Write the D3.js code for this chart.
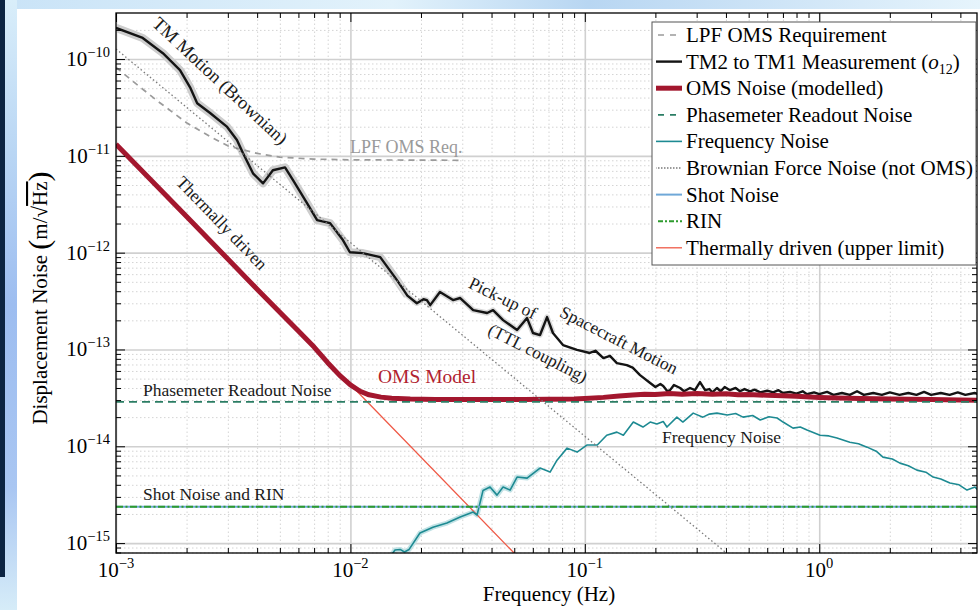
<!DOCTYPE html>
<html>
<head>
<meta charset="utf-8">
<script src="https://cdn.jsdelivr.net/npm/d3@7/dist/d3.min.js"></script>
<style>
  body { margin: 0; background: #ffffff; }
  svg { display: block; font-family: "Liberation Serif", "Times New Roman", serif; }
</style>
</head>
<body>
<div id="graph"></div>
<script>
// tick values and labels
var freqTicks = [1e-3, 1e-2, 1e-1, 1];
var freqTickExp = ["\u22123", "\u22122", "\u22121", "0"];
var noiseTicks = [1e-15, 1e-14, 1e-13, 1e-12, 1e-11, 1e-10];
var noiseTickExp = ["\u221215", "\u221214", "\u221213", "\u221212", "\u221211", "\u221210"];

// LPF OMS requirement
var reqFreq  = [1e-3, 1.2e-3, 1.5e-3, 2e-3, 2.5e-3, 3e-3, 4e-3, 5e-3, 7e-3, 1e-2, 2.9e-2];
var reqNoise = [8.2e-11, 5.7e-11, 3.7e-11, 2.2e-11, 1.6e-11, 1.27e-11, 1.06e-11, 9.7e-12, 9.25e-12, 9.1e-12, 9.0e-12];

// TM2 to TM1 measurement (o12)
var measFreq = [1.0e-3, 1.3e-3, 1.585e-3, 1.875e-3, 2.07e-3, 2.22e-3, 2.52e-3, 2.98e-3, 3.28e-3, 3.48e-3,
  3.84e-3, 4.24e-3, 4.67e-3, 5.26e-3, 5.69e-3, 6.53e-3, 7.21e-3, 8.19e-3, 9.29e-3, 9.95e-3,
  1.13e-2, 1.34e-2, 1.58e-2, 1.75e-2, 1.92e-2, 2.05e-2, 2.12e-2, 2.19e-2, 2.41e-2, 2.74e-2,
  2.94e-2, 3.34e-2, 3.83e-2, 4.06e-2, 4.48e-2, 5.14e-2, 5.67e-2, 6.01e-2, 6.44e-2, 6.90e-2,
  7.31e-2, 8.07e-2, 9.26e-2, 0.105, 0.111, 0.120, 0.128, 0.137, 0.151, 0.160,
  0.172, 0.19, 0.2, 0.21, 0.216, 0.225, 0.231, 0.24, 0.255, 0.265,
  0.281, 0.295, 0.31, 0.326, 0.34, 0.35, 0.366, 0.38, 0.395, 0.416,
  0.44, 0.459, 0.48, 0.507, 0.53, 0.56, 0.6, 0.636, 0.67, 0.7,
  0.75, 0.8, 0.85, 0.887, 0.95, 1.0, 1.08, 1.15, 1.25, 1.35,
  1.45, 1.55, 1.7, 1.85, 2.0, 2.2, 2.4, 2.6, 2.8, 3.0,
  3.3, 3.6, 3.9, 4.2, 4.6, 4.9];
var measNoise = [2.1e-10, 1.65e-10, 1.15e-10, 7.7e-11, 5.1e-11, 3.5e-11, 2.77e-11, 1.99e-11, 1.46e-11, 1.07e-11,
  6.6e-12, 5.2e-12, 7.1e-12, 7.6e-12, 5.6e-12, 3.25e-12, 2.17e-12, 2.02e-12, 1.35e-12, 1.01e-12,
  9.9e-13, 9.0e-13, 5.2e-13, 3.6e-13, 3.0e-13, 3.3e-13, 3.23e-13, 2.87e-13, 3.92e-13, 3.24e-13,
  3.4e-13, 2.55e-13, 2.38e-13, 2.55e-13, 2.01e-13, 1.59e-13, 2.11e-13, 1.48e-13, 1.41e-13, 2.16e-13,
  1.48e-13, 1.11e-13, 9.9e-14, 9.2e-14, 9.7e-14, 8.15e-14, 8.6e-14, 7.24e-14, 6.9e-14, 6.5e-14,
  5.44e-14, 4.5e-14, 4.1e-14, 4.4e-14, 4.2e-14, 3.7e-14, 3.8e-14, 4.3e-14, 4.0e-14, 3.7e-14,
  4.0e-14, 3.8e-14, 4.6e-14, 3.8e-14, 3.9e-14, 3.6e-14, 4.0e-14, 3.7e-14, 4.1e-14, 3.8e-14,
  4.0e-14, 3.7e-14, 3.9e-14, 3.7e-14, 3.85e-14, 3.6e-14, 3.75e-14, 3.6e-14, 3.8e-14, 3.55e-14,
  3.65e-14, 3.5e-14, 3.7e-14, 3.45e-14, 3.6e-14, 3.45e-14, 3.65e-14, 3.4e-14, 3.55e-14, 3.4e-14,
  3.7e-14, 3.4e-14, 3.55e-14, 3.4e-14, 3.6e-14, 3.4e-14, 3.55e-14, 3.4e-14, 3.65e-14, 3.4e-14,
  3.55e-14, 3.4e-14, 3.6e-14, 3.4e-14, 3.55e-14, 3.4e-14];

// OMS noise (modelled)
var omsFreq = [1e-3, 2e-3, 3e-3, 4e-3, 5e-3, 6e-3, 7e-3, 8e-3, 9e-3, 1e-2,
  1.1e-2, 1.2e-2, 1.35e-2, 1.5e-2, 1.8e-2, 2.3e-2, 3e-2, 4e-2, 5.5e-2, 7e-2,
  9e-2, 0.1, 0.12, 0.14, 0.16, 0.18, 0.2, 0.23, 0.26, 0.3,
  0.35, 0.4, 0.45, 0.5, 0.6, 0.7, 0.8, 1.0, 1.2, 1.5,
  2, 3, 4, 4.9];
var omsNoise = [1.32e-11, 2.36e-12, 8.6e-13, 4.2e-13, 2.42e-13, 1.55e-13, 1.06e-13, 7.3e-14, 5.4e-14, 4.3e-14,
  3.7e-14, 3.4e-14, 3.22e-14, 3.13e-14, 3.07e-14, 3.05e-14, 3.04e-14, 3.04e-14, 3.05e-14, 3.06e-14,
  3.08e-14, 3.12e-14, 3.2e-14, 3.3e-14, 3.38e-14, 3.45e-14, 3.42e-14, 3.5e-14, 3.45e-14, 3.5e-14,
  3.44e-14, 3.48e-14, 3.4e-14, 3.42e-14, 3.36e-14, 3.32e-14, 3.28e-14, 3.2e-14, 3.16e-14, 3.12e-14,
  3.08e-14, 3.04e-14, 3.01e-14, 2.99e-14];

// Phasemeter readout noise
var phaseFreq = [1e-3, 5];
var phaseNoise = [2.88e-14, 2.88e-14];

// Frequency noise
var fnFreq = [0.0150, 0.0155, 0.0163, 0.0170, 0.0178, 0.0198, 0.0225, 0.0258, 0.0294, 0.0334,
  0.0347, 0.0368, 0.0394, 0.0422, 0.0448, 0.0480, 0.0514, 0.0567, 0.0644, 0.0711,
  0.0761, 0.0840, 0.0927, 0.102, 0.113, 0.124, 0.137, 0.146, 0.161, 0.177,
  0.190, 0.203, 0.216, 0.224, 0.247, 0.262, 0.290, 0.319, 0.340, 0.366,
  0.405, 0.440, 0.473, 0.520, 0.560, 0.610, 0.661, 0.701, 0.773, 0.830,
  0.887, 1.008, 1.10, 1.19, 1.35, 1.47, 1.60, 1.75, 1.87, 2.05,
  2.21, 2.40, 2.61, 2.85, 3.06, 3.30, 3.61, 3.95, 4.27, 4.62, 4.85];
var fnNoise = [7.6e-16, 8.5e-16, 8.6e-16, 8.1e-16, 8.6e-16, 1.27e-15, 1.46e-15, 1.61e-15, 1.86e-15, 2.09e-15,
  1.95e-15, 3.5e-15, 3.8e-15, 3.13e-15, 3.79e-15, 3.53e-15, 4.81e-15, 4.69e-15, 5.95e-15, 5.41e-15,
  7.19e-15, 9.57e-15, 8.71e-15, 1.03e-14, 1.03e-14, 1.30e-14, 1.40e-14, 1.30e-14, 1.78e-14, 1.58e-14,
  1.78e-14, 1.70e-14, 1.80e-14, 1.58e-14, 2.00e-14, 1.78e-14, 2.20e-14, 2.00e-14, 2.15e-14, 2.20e-14,
  2.10e-14, 2.18e-14, 2.00e-14, 2.08e-14, 1.87e-14, 2.02e-14, 1.96e-14, 1.78e-14, 1.54e-14, 1.58e-14,
  1.47e-14, 1.30e-14, 1.28e-14, 1.22e-14, 1.10e-14, 1.06e-14, 9.8e-15, 8.9e-15, 7.73e-15, 7.4e-15,
  6.70e-15, 6.3e-15, 5.67e-15, 5.4e-15, 4.81e-15, 4.6e-15, 4.17e-15, 4.0e-15, 3.53e-15, 3.79e-15, 3.36e-15];

// Brownian force noise (not OMS)
var brownFreq = [1e-3, 1e-2, 1e-1, 0.45];
var brownNoise = [1.27e-10, 1.27e-12, 1.27e-14, 6.3e-16];

// Shot noise and RIN
var shotFreq = [1e-3, 5];
var shotNoise = [2.38e-15, 2.38e-15];
var rinFreq = [1e-3, 5];
var rinNoise = [2.38e-15, 2.38e-15];

// Thermally driven (upper limit)
var thermFreq = [1e-3, 1e-2, 0.055];
var thermNoise = [1.32e-11, 4.35e-14, 6.2e-16];

var legendLabels = ["LPF OMS Requirement", "TM2 to TM1 Measurement", "OMS Noise (modelled)",
  "Phasemeter Readout Noise", "Frequency Noise", "Brownian Force Noise (not OMS)",
  "Shot Noise", "RIN", "Thermally driven (upper limit)"];

function makeChart() {

  var svgWidth = 980;
  var svgHeight = 610;

  var chartMargin = { top: 13, left: 116 };
  var chartWidth = 861;
  var chartHeight = 540;

  var svg = d3.select("#graph")
    .append("svg")
    .attr("width", svgWidth)
    .attr("height", svgHeight);

  // slide background peeking out at the left and top
  var defs = svg.append("defs");
  var sideGrad = defs.append("linearGradient").attr("id", "sideGrad")
    .attr("x1", 0).attr("y1", 0).attr("x2", 0).attr("y2", 1);
  sideGrad.append("stop").attr("offset", "0").attr("stop-color", "#d9eefa");
  sideGrad.append("stop").attr("offset", "0.25").attr("stop-color", "#b9d6f4");
  sideGrad.append("stop").attr("offset", "0.5").attr("stop-color", "#9dbdf0");
  sideGrad.append("stop").attr("offset", "0.8").attr("stop-color", "#a9c6f2");
  sideGrad.append("stop").attr("offset", "1").attr("stop-color", "#d6ecf8");
  var topGrad = defs.append("linearGradient").attr("id", "topGrad")
    .attr("x1", 0).attr("y1", 0).attr("x2", 1).attr("y2", 0);
  topGrad.append("stop").attr("offset", "0").attr("stop-color", "#c9e3f7");
  topGrad.append("stop").attr("offset", "0.4").attr("stop-color", "#e2f2fb");
  topGrad.append("stop").attr("offset", "0.6").attr("stop-color", "#b8d6f2");
  topGrad.append("stop").attr("offset", "1").attr("stop-color", "#e6f4fc");

  svg.append("rect").attr("x", 0).attr("y", 0).attr("width", svgWidth).attr("height", 9)
    .attr("fill", "url(#topGrad)");
  svg.append("rect").attr("x", 0).attr("y", 0).attr("width", 17).attr("height", svgHeight)
    .attr("fill", "url(#sideGrad)");
  svg.append("rect").attr("x", 0).attr("y", 0).attr("width", 5).attr("height", 577)
    .attr("fill", "#0c2442");

  defs.append("clipPath").attr("id", "plotClip")
    .append("rect").attr("width", chartWidth).attr("height", chartHeight);

  var xScale = d3.scaleLog()
    .domain([1e-3, 4.71])
    .range([0, chartWidth]);

  var yScale = d3.scaleLog()
    .domain([7.9e-16, 2.99e-10])
    .range([chartHeight, 0]);

  var xMinor = [];
  [1e-3, 1e-2, 1e-1, 1].forEach(function(dec) {
    for (var k = 2; k <= 9; k++) {
      if (dec * k < 4.71) xMinor.push(dec * k);
    }
  });
  var yMinor = [];
  [1e-16, 1e-15, 1e-14, 1e-13, 1e-12, 1e-11, 1e-10].forEach(function(dec) {
    for (var k = 2; k <= 9; k++) {
      var v = dec * k;
      if (v > 7.9e-16 && v < 2.99e-10) yMinor.push(v);
    }
  });

  var chartGroup = svg.append("g")
    .attr("transform", `translate(${chartMargin.left}, ${chartMargin.top})`);

  chartGroup.append("rect")
    .attr("width", chartWidth).attr("height", chartHeight).attr("fill", "#ffffff");

  // grid: dotted minor, solid major
  function gridStyle(g, color, width, dash) {
    g.select(".domain").remove();
    g.selectAll(".tick line").attr("stroke", color).attr("stroke-width", width)
      .attr("stroke-dasharray", dash);
  }
  chartGroup.append("g")
    .attr("transform", `translate(0, ${chartHeight})`)
    .call(d3.axisBottom(xScale).tickValues(xMinor).tickSize(-chartHeight).tickFormat(""))
    .call(gridStyle, "#d4d4d4", 1, "1.5,2.5");
  chartGroup.append("g")
    .call(d3.axisLeft(yScale).tickValues(yMinor).tickSize(-chartWidth).tickFormat(""))
    .call(gridStyle, "#d4d4d4", 1, "1.5,2.5");
  chartGroup.append("g")
    .attr("transform", `translate(0, ${chartHeight})`)
    .call(d3.axisBottom(xScale).tickValues(freqTicks).tickSize(-chartHeight).tickFormat(""))
    .call(gridStyle, "#d0d0d0", 1.6, null);
  chartGroup.append("g")
    .call(d3.axisLeft(yScale).tickValues(noiseTicks).tickSize(-chartWidth).tickFormat(""))
    .call(gridStyle, "#d0d0d0", 1.6, null);

  var line = d3.line()
    .x(d => xScale(d[0]))
    .y(d => yScale(d[1]));

  var lines = chartGroup.append("g").attr("clip-path", "url(#plotClip)");

  function drawSeries(f, v, color, width, dash, join) {
    return lines.append("path")
      .datum(d3.zip(f, v))
      .attr("d", line)
      .attr("fill", "none")
      .attr("stroke", color)
      .attr("stroke-width", width)
      .attr("stroke-dasharray", dash)
      .attr("stroke-linejoin", join || "round")
      .attr("stroke-linecap", "butt");
  }

  // uncertainty shading drawn as a wide pale stroke under the measured traces
  var measLow = d3.zip(measFreq, measNoise).filter(d => d[0] < 0.018);
  drawSeries(measLow.map(d => d[0]), measLow.map(d => d[1]), "#cdcdcd", 8, null);
  var measMid = d3.zip(measFreq, measNoise).filter(d => d[0] > 0.015 && d[0] < 0.075);
  drawSeries(measMid.map(d => d[0]), measMid.map(d => d[1]), "#dadada", 5.5, null);
  var fnLow = d3.zip(fnFreq, fnNoise).filter(d => d[0] < 0.065);
  drawSeries(fnLow.map(d => d[0]), fnLow.map(d => d[1]), "#c2e2e5", 5, null);

  drawSeries(reqFreq, reqNoise, "#9b9b9b", 1.7, "6,5");
  drawSeries(thermFreq, thermNoise, "#ef5a47", 1.3, null);
  drawSeries(measFreq, measNoise, "#141414", 2.4, null);
  drawSeries(omsFreq, omsNoise, "#a3172e", 5, null);
  drawSeries(phaseFreq, phaseNoise, "#2b7d64", 1.8, "8,5");
  drawSeries(fnFreq, fnNoise, "#1d8a92", 1.6, null);
  drawSeries(brownFreq, brownNoise, "#7a7a7a", 1.3, "1.5,2.5");
  drawSeries(shotFreq, shotNoise, "#6fa8d8", 2, null);
  drawSeries(rinFreq, rinNoise, "#2e9b2e", 2, "7,2.5,2,2.5");

  // ticks on all four sides, pointing inward
  function tickStyle(g) {
    g.select(".domain").remove();
    g.selectAll(".tick line").attr("stroke", "#000").attr("stroke-width", 1);
  }
  chartGroup.append("g").attr("transform", `translate(0, ${chartHeight})`)
    .call(d3.axisBottom(xScale).tickValues(freqTicks).tickSize(-9).tickFormat("")).call(tickStyle);
  chartGroup.append("g").attr("transform", `translate(0, ${chartHeight})`)
    .call(d3.axisBottom(xScale).tickValues(xMinor).tickSize(-5).tickFormat("")).call(tickStyle);
  chartGroup.append("g")
    .call(d3.axisTop(xScale).tickValues(freqTicks).tickSize(-9).tickFormat("")).call(tickStyle);
  chartGroup.append("g")
    .call(d3.axisTop(xScale).tickValues(xMinor).tickSize(-5).tickFormat("")).call(tickStyle);
  chartGroup.append("g")
    .call(d3.axisLeft(yScale).tickValues(noiseTicks).tickSize(-9).tickFormat("")).call(tickStyle);
  chartGroup.append("g")
    .call(d3.axisLeft(yScale).tickValues(yMinor).tickSize(-5).tickFormat("")).call(tickStyle);
  chartGroup.append("g").attr("transform", `translate(${chartWidth}, 0)`)
    .call(d3.axisRight(yScale).tickValues(noiseTicks).tickSize(-9).tickFormat("")).call(tickStyle);
  chartGroup.append("g").attr("transform", `translate(${chartWidth}, 0)`)
    .call(d3.axisRight(yScale).tickValues(yMinor).tickSize(-5).tickFormat("")).call(tickStyle);

  chartGroup.append("rect")
    .attr("width", chartWidth).attr("height", chartHeight)
    .attr("fill", "none").attr("stroke", "#000").attr("stroke-width", 1.3);

  // tick labels 10^n
  freqTicks.forEach(function(d, i) {
    var t = chartGroup.append("text")
      .attr("x", xScale(d)).attr("y", chartHeight + 24)
      .attr("text-anchor", "middle")
      .style("font-size", "21px");
    t.append("tspan").text("10");
    t.append("tspan").attr("dy", -9).style("font-size", "14.5px").text(freqTickExp[i]);
  });
  noiseTicks.forEach(function(d, i) {
    var t = chartGroup.append("text")
      .attr("x", -6).attr("y", yScale(d) + 7)
      .attr("text-anchor", "end")
      .style("font-size", "21px");
    t.append("tspan").text("10");
    t.append("tspan").attr("dy", -9).style("font-size", "14.5px").text(noiseTickExp[i]);
  });

  // axis titles
  svg.append("text")
    .attr("x", 549).attr("y", 601)
    .attr("text-anchor", "middle")
    .style("font-size", "21px")
    .text("Frequency (Hz)");

  var yTitle = svg.append("text")
    .attr("transform", "translate(47, 298) rotate(-90)")
    .attr("text-anchor", "middle")
    .style("font-size", "21px");
  yTitle.append("tspan").text("Displacement Noise ");
  yTitle.append("tspan").style("font-size", "30px").attr("dy", 2).text("(");
  yTitle.append("tspan").attr("dy", -2).text("m/\u221A");
  yTitle.append("tspan").style("text-decoration", "overline").text("Hz");
  yTitle.append("tspan").style("font-size", "30px").attr("dy", 2).text(")");

  // annotations inside the plot
  function rotLabel(cx, cy, angle, size, color, txt) {
    svg.append("text")
      .attr("transform", `translate(${cx}, ${cy}) rotate(${angle})`)
      .attr("text-anchor", "middle")
      .attr("dominant-baseline", "central")
      .style("font-size", size + "px")
      .attr("fill", color)
      .text(txt);
  }
  rotLabel(220, 81, 43, 18.5, "#1a1a1a", "TM Motion (Brownian)");
  rotLabel(222, 223, 46, 17.5, "#1a1a1a", "Thermally driven");
  rotLabel(503, 298, 26, 17.5, "#1a1a1a", "Pick-up of");
  rotLabel(619, 340, 27, 17.5, "#1a1a1a", "Spacecraft Motion");
  rotLabel(538, 353, 27, 17.5, "#1a1a1a", "(TTL coupling)");

  function plainLabel(x, y, size, color, txt) {
    svg.append("text")
      .attr("x", x).attr("y", y)
      .style("font-size", size + "px")
      .attr("fill", color)
      .text(txt);
  }
  plainLabel(350, 153, 18, "#9a9a9a", "LPF OMS Req.");
  plainLabel(378, 383, 19.5, "#b1222f", "OMS Model");
  plainLabel(143, 396, 17.5, "#1a1a1a", "Phasemeter Readout Noise");
  plainLabel(143, 500, 17.5, "#1a1a1a", "Shot Noise and RIN");
  plainLabel(662, 443, 17.5, "#1a1a1a", "Frequency Noise");

  // legend
  var legendStyles = [
    { color: "#9b9b9b", width: 1.7, dash: "6,6" },
    { color: "#141414", width: 2.4, dash: null },
    { color: "#a3172e", width: 5, dash: null },
    { color: "#2b7d64", width: 1.8, dash: "6,6" },
    { color: "#1d8a92", width: 1.6, dash: null },
    { color: "#7a7a7a", width: 1.3, dash: "1.5,1.5" },
    { color: "#6fa8d8", width: 2, dash: null },
    { color: "#2e9b2e", width: 2, dash: "5,2,2,2" },
    { color: "#ef5a47", width: 1.3, dash: null }
  ];

  var legend = svg.append("g");
  legend.append("rect")
    .attr("x", 652).attr("y", 22).attr("width", 324).attr("height", 243)
    .attr("fill", "#ffffff").attr("stroke", "#555").attr("stroke-width", 1);

  legendLabels.forEach(function(label, i) {
    var cy = 35 + i * 26.6;
    var st = legendStyles[i];
    legend.append("line")
      .attr("x1", 656).attr("x2", 682).attr("y1", cy).attr("y2", cy)
      .attr("stroke", st.color).attr("stroke-width", st.width)
      .attr("stroke-dasharray", st.dash)
      .attr("stroke-dashoffset", st.dash ? -2 : null);
    var t = legend.append("text")
      .attr("x", 686).attr("y", cy + 7)
      .style("font-size", "21px")
      .text(label);
    if (i == 1) {
      t.append("tspan").text(" (");
      t.append("tspan").style("font-style", "italic").text("o");
      t.append("tspan").attr("dy", 5).style("font-size", "14px").text("12");
      t.append("tspan").attr("dy", -5).text(")");
    }
  });
}

makeChart();
</script>
</body>
</html>
